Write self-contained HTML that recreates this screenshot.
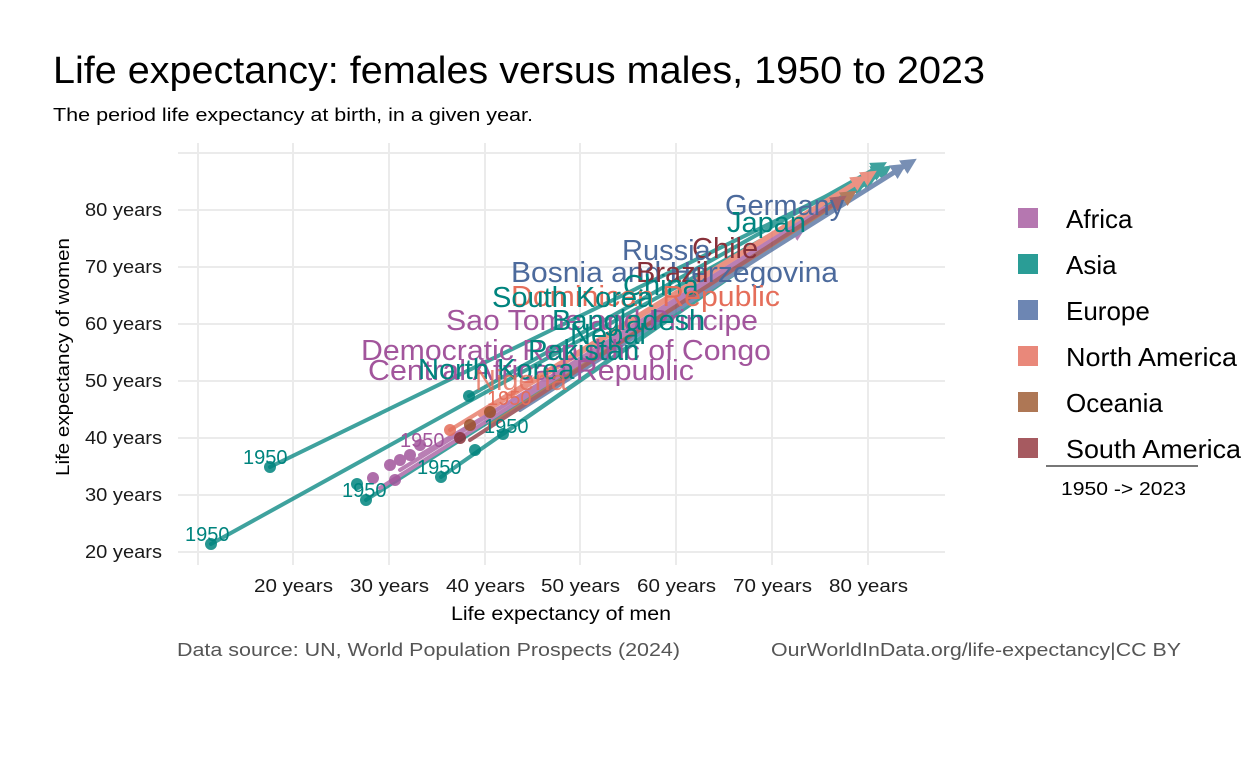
<!DOCTYPE html>
<html><head><meta charset="utf-8"><style>
body{margin:0;background:#fff;}
svg{display:block;font-family:"Liberation Sans",sans-serif;}
</style></head><body>
<svg width="1248" height="768" viewBox="0 0 1248 768">
<defs>
<marker id="ar" viewBox="0 0 10 10" refX="5" refY="5" markerWidth="4" markerHeight="4" orient="auto"><path d="M0,0L10,5L0,10z" fill="context-stroke"/></marker>
</defs>
<text x="53" y="83" font-size="38" fill="#000" textLength="932" lengthAdjust="spacingAndGlyphs">Life expectancy: females versus males, 1950 to 2023</text>
<text x="53" y="121" font-size="18" fill="#000" textLength="480" lengthAdjust="spacingAndGlyphs">The period life expectancy at birth, in a given year.</text>
<g stroke="#ebebeb" stroke-width="2">
<line x1="178" y1="153" x2="945" y2="153"/><line x1="178" y1="210" x2="945" y2="210"/><line x1="178" y1="267" x2="945" y2="267"/><line x1="178" y1="324" x2="945" y2="324"/><line x1="178" y1="381" x2="945" y2="381"/><line x1="178" y1="438" x2="945" y2="438"/><line x1="178" y1="495" x2="945" y2="495"/><line x1="178" y1="552" x2="945" y2="552"/>
<line x1="198" y1="143" x2="198" y2="565"/><line x1="293" y1="143" x2="293" y2="565"/><line x1="389" y1="143" x2="389" y2="565"/><line x1="485" y1="143" x2="485" y2="565"/><line x1="580" y1="143" x2="580" y2="565"/><line x1="676" y1="143" x2="676" y2="565"/><line x1="772" y1="143" x2="772" y2="565"/><line x1="868" y1="143" x2="868" y2="565"/>
</g>
<g font-size="18" fill="#1a1a1a" text-anchor="end">
<text x="162" y="216" textLength="77" lengthAdjust="spacingAndGlyphs">80 years</text><text x="162" y="273" textLength="77" lengthAdjust="spacingAndGlyphs">70 years</text><text x="162" y="330" textLength="77" lengthAdjust="spacingAndGlyphs">60 years</text><text x="162" y="387" textLength="77" lengthAdjust="spacingAndGlyphs">50 years</text><text x="162" y="444" textLength="77" lengthAdjust="spacingAndGlyphs">40 years</text><text x="162" y="501" textLength="77" lengthAdjust="spacingAndGlyphs">30 years</text><text x="162" y="558" textLength="77" lengthAdjust="spacingAndGlyphs">20 years</text>
</g>
<g font-size="18" fill="#1a1a1a">
<text x="254" y="592" textLength="79" lengthAdjust="spacingAndGlyphs">20 years</text><text x="350" y="592" textLength="79" lengthAdjust="spacingAndGlyphs">30 years</text><text x="446" y="592" textLength="79" lengthAdjust="spacingAndGlyphs">40 years</text><text x="541" y="592" textLength="79" lengthAdjust="spacingAndGlyphs">50 years</text><text x="637" y="592" textLength="79" lengthAdjust="spacingAndGlyphs">60 years</text><text x="733" y="592" textLength="79" lengthAdjust="spacingAndGlyphs">70 years</text><text x="829" y="592" textLength="79" lengthAdjust="spacingAndGlyphs">80 years</text>
</g>
<text x="451" y="620" font-size="19" textLength="220" lengthAdjust="spacingAndGlyphs">Life expectancy of men</text>
<text transform="translate(69,476) rotate(-90)" font-size="18" textLength="238" lengthAdjust="spacingAndGlyphs">Life expectancy of women</text>
<g stroke-width="4" stroke-linecap="round" fill="none" opacity="0.75" marker-end="url(#ar)">
<line x1="270" y1="467" x2="880" y2="170" stroke="#00847e"/>
<line x1="211" y1="544" x2="870" y2="180" stroke="#00847e"/>
<line x1="366" y1="500" x2="860" y2="185" stroke="#00847e"/>
<line x1="441" y1="477" x2="870" y2="178" stroke="#00847e"/>
<line x1="469" y1="396" x2="880" y2="166" stroke="#00847e"/>
<line x1="503" y1="434" x2="885" y2="170" stroke="#00847e"/>
<line x1="380" y1="488" x2="840" y2="200" stroke="#a2559c"/>
<line x1="400" y1="470" x2="820" y2="210" stroke="#a2559c"/>
<line x1="420" y1="455" x2="800" y2="230" stroke="#a2559c"/>
<line x1="450" y1="430" x2="860" y2="180" stroke="#e56e5a"/>
<line x1="480" y1="415" x2="870" y2="175" stroke="#e56e5a"/>
<line x1="520" y1="410" x2="900" y2="168" stroke="#4c6a9c"/>
<line x1="500" y1="420" x2="910" y2="163" stroke="#4c6a9c"/>
<line x1="490" y1="425" x2="850" y2="195" stroke="#9a5129"/>
<line x1="470" y1="440" x2="840" y2="200" stroke="#883039"/>
</g>
<g opacity="0.85">
<circle cx="270" cy="467" r="6" fill="#00847e"/><circle cx="211" cy="544" r="6" fill="#00847e"/><circle cx="357" cy="484" r="6" fill="#00847e"/><circle cx="366" cy="500" r="6" fill="#00847e"/><circle cx="441" cy="477" r="6" fill="#00847e"/><circle cx="469" cy="396" r="6" fill="#00847e"/><circle cx="503" cy="434" r="6" fill="#00847e"/><circle cx="475" cy="450" r="6" fill="#00847e"/>
<circle cx="373" cy="478" r="6" fill="#a2559c"/><circle cx="390" cy="465" r="6" fill="#a2559c"/><circle cx="400" cy="460" r="6" fill="#a2559c"/><circle cx="410" cy="455" r="6" fill="#a2559c"/><circle cx="420" cy="445" r="6" fill="#a2559c"/><circle cx="395" cy="480" r="6" fill="#a2559c"/>
<circle cx="450" cy="430" r="6" fill="#e56e5a"/><circle cx="470" cy="425" r="6" fill="#9a5129"/><circle cx="490" cy="412" r="6" fill="#9a5129"/><circle cx="460" cy="438" r="6" fill="#883039"/>
</g>
<g font-size="20" fill="#00847e">
<text x="243" y="464">1950</text><text x="185" y="541">1950</text><text x="342" y="497">1950</text><text x="417" y="474">1950</text><text x="484" y="433">1950</text>
</g>
<text x="487" y="405" font-size="20" fill="#e56e5a">1950</text>
<text x="400" y="447" font-size="20" fill="#a2559c">1950</text>
<g font-size="29">
<text x="725" y="215" fill="#4c6a9c">Germany</text>
<text x="727" y="232" fill="#00847e">Japan</text>
<text x="692" y="258" fill="#883039">Chile</text>
<text x="622" y="260" fill="#4c6a9c">Russia</text>
<text x="511" y="282" fill="#4c6a9c" textLength="327" lengthAdjust="spacingAndGlyphs">Bosnia and Herzegovina</text>
<text x="636" y="282" fill="#883039">Brazil</text>
<text x="623" y="295" fill="#00847e">China</text>
<text x="511" y="306" fill="#e56e5a" textLength="269" lengthAdjust="spacingAndGlyphs">Dominican Republic</text>
<text x="492" y="307" fill="#00847e">South Korea</text>
<text x="446" y="330" fill="#a2559c" textLength="312" lengthAdjust="spacingAndGlyphs">Sao Tome and Principe</text>
<text x="552" y="330" fill="#00847e">Bangladesh</text>
<text x="570" y="344" fill="#00847e">Nepal</text>
<text x="361" y="360" fill="#a2559c" textLength="410" lengthAdjust="spacingAndGlyphs">Democratic Republic of Congo</text>
<text x="528" y="360" fill="#00847e">Pakistan</text>
<text x="368" y="380" fill="#a2559c" textLength="326" lengthAdjust="spacingAndGlyphs">Central African Republic</text>
<text x="418" y="379" fill="#00847e">North Korea</text>
<text x="475" y="390" fill="#e56e5a" opacity="0.8">Nigeria</text>
</g>
<g font-size="26" fill="#000">
<rect x="1018" y="208" width="20" height="20" fill="#b577b0"/><text x="1066" y="228">Africa</text>
<rect x="1018" y="254" width="20" height="20" fill="#2a9d96"/><text x="1066" y="274">Asia</text>
<rect x="1018" y="300" width="20" height="20" fill="#6d86b3"/><text x="1066" y="320">Europe</text>
<rect x="1018" y="346" width="20" height="20" fill="#e9887a"/><text x="1066" y="366" textLength="171" lengthAdjust="spacingAndGlyphs">North America</text>
<rect x="1018" y="392" width="20" height="20" fill="#ae7755"/><text x="1066" y="412">Oceania</text>
<rect x="1018" y="438" width="20" height="20" fill="#a65a60"/><text x="1066" y="458" textLength="175" lengthAdjust="spacingAndGlyphs">South America</text>
</g>
<line x1="1046" y1="466" x2="1198" y2="466" stroke="#777" stroke-width="2"/>
<text x="1061" y="495" font-size="18" textLength="125" lengthAdjust="spacingAndGlyphs">1950 -&gt; 2023</text>
<text x="177" y="656" font-size="18" fill="#555" textLength="503" lengthAdjust="spacingAndGlyphs">Data source: UN, World Population Prospects (2024)</text>
<text x="771" y="656" font-size="18" fill="#555" textLength="410" lengthAdjust="spacingAndGlyphs">OurWorldInData.org/life-expectancy|CC BY</text>
</svg>
</body></html>
